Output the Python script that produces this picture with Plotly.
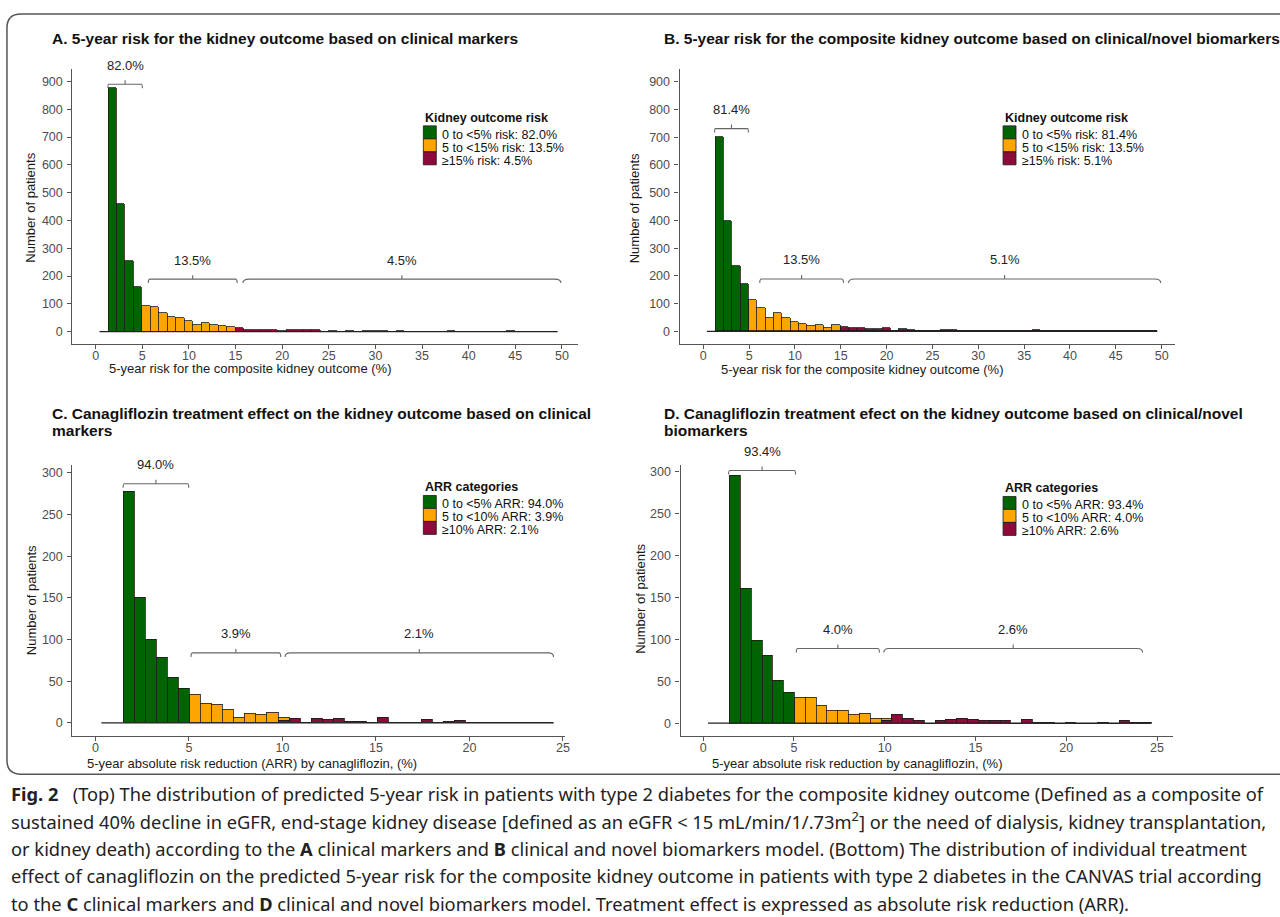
import plotly.graph_objects as go

W, H = 1280, 917

# ---------------- data ----------------
# Panel A: clinical markers, 5-year risk (%)
A_bin_start = 0.40
A_bin_width = 0.91
A_n_bins = 54
A_green_first = 1
A_green = [876, 458, 254, 161]
A_orange_first = 5
A_orange = [91, 88, 68, 53, 49, 39, 24, 30, 24, 22, 17]
A_red_first = 16
A_red = [12, 8, 8, 6, 6, 1, 7, 5, 6, 8,
         0, 1, 0, 1, 0, 1, 1, 1, 0, 4,
         0, 0, 0, 0, 0, 4, 0, 0, 0, 0,
         0, 0, 1, 0, 0, 0, 0, 0]

# Panel B: clinical/novel biomarkers, 5-year risk (%)
B_bin_start = 0.40
B_bin_width = 0.91
B_n_bins = 54
B_green_first = 1
B_green = [701, 398, 236, 172]
B_orange_first = 5
B_orange = [114, 83, 49, 68, 47, 34, 28, 19, 24, 13, 25]
B_red_first = 16
B_red = [15, 11, 11, 9, 9, 12, 1, 10, 5, 1,
         1, 1, 6, 6, 0, 0, 0, 0, 0, 1,
         1, 0, 1, 4, 1, 0, 1, 0, 1, 0,
         0, 0, 1, 0, 0, 0, 0, 0]

# Panel C: ARR, clinical markers
C_bin_start = 0.32
C_bin_width = 0.59
C_n_bins = 41
C_green_first = 2
C_green = [278, 151, 100, 79, 54, 41]
C_orange_first = 8
C_orange = [34, 23, 22, 16, 7, 11, 10, 12, 3]
C_red_first = 16
C_red = [3, 5, 0, 5, 4, 5, 2, 2, 0, 7,
         0, 1, 0, 4, 0, 2, 3, 1, 1, 0,
         1, 1, 1, 0, 1]

# Panel D: ARR, clinical/novel biomarkers
D_bin_start = 0.27
D_bin_width = 0.596
D_n_bins = 41
D_green_first = 2
D_green = [295, 160, 98, 81, 51, 37]
D_orange_first = 8
D_orange = [31, 31, 21, 15, 15, 10, 12, 6, 3]
D_red_first = 16
D_red = [3, 10, 6, 3, 0, 3, 5, 6, 5, 3,
         3, 3, 0, 5, 1, 1, 0, 1, 0, 0,
         1, 0, 3, 1, 1]

# Titles / labels
A_title = ["A. 5-year risk for the kidney outcome based on clinical markers"]
B_title = ["B. 5-year risk for the composite kidney outcome based on clinical/novel biomarkers"]
C_title = ["C. Canagliflozin treatment effect on the kidney outcome based on clinical", "markers"]
D_title = ["D. Canagliflozin treatment efect on the kidney outcome based on clinical/novel", "biomarkers"]

AB_xlabel = "5-year risk for the composite kidney outcome (%)"
C_xlabel = "5-year absolute risk reduction (ARR) by canagliflozin, (%)"
D_xlabel = "5-year absolute risk reduction by canagliflozin, (%)"
ylabel = "Number of patients"

AB_xticks = [0, 5, 10, 15, 20, 25, 30, 35, 40, 45, 50]
AB_yticks = [0, 100, 200, 300, 400, 500, 600, 700, 800, 900]
CD_xticks = [0, 5, 10, 15, 20, 25]
CD_yticks = [0, 50, 100, 150, 200, 250, 300]

A_legend_title = "Kidney outcome risk"
A_legend = ["0 to <5% risk: 82.0%", "5 to <15% risk: 13.5%", "≥15% risk: 4.5%"]
B_legend_title = "Kidney outcome risk"
B_legend = ["0 to <5% risk: 81.4%", "5 to <15% risk: 13.5%", "≥15% risk: 5.1%"]
C_legend_title = "ARR categories"
C_legend = ["0 to <5% ARR: 94.0%", "5 to <10% ARR: 3.9%", "≥10% ARR: 2.1%"]
D_legend_title = "ARR categories"
D_legend = ["0 to <5% ARR: 93.4%", "5 to <10% ARR: 4.0%", "≥10% ARR: 2.6%"]

# Brackets: (from, to, level, label)
A_brackets = [(1.31, 5.00, 890, "82.0%"), (5.63, 15.17, 189, "13.5%"), (15.78, 49.9, 189, "4.5%")]
B_brackets = [(1.23, 4.92, 731, "81.4%"), (6.16, 15.29, 189, "13.5%"), (15.84, 49.9, 189, "5.1%")]
C_brackets = [(1.48, 4.99, 287, "94.0%"), (5.11, 9.91, 84, "3.9%"), (10.14, 24.5, 84, "2.1%")]
D_brackets = [(1.40, 5.09, 301, "93.4%"), (5.13, 9.71, 89, "4.0%"), (9.95, 24.2, 89, "2.6%")]

caption_lines = [
    "<b>Fig. 2</b>\u00a0\u00a0 (Top) The distribution of predicted 5-year risk in patients with type 2 diabetes for the composite kidney outcome (Defined as a composite of",
    "sustained 40% decline in eGFR, end-stage kidney disease [defined as an eGFR &lt; 15 mL/min/1/.73m<sup>2</sup>] or the need of dialysis, kidney transplantation,",
    "or kidney death) according to the <b>A</b> clinical markers and <b>B</b> clinical and novel biomarkers model. (Bottom) The distribution of individual treatment",
    "effect of canagliflozin on the predicted 5-year risk for the composite kidney outcome in patients with type 2 diabetes in the CANVAS trial according",
    "to the <b>C</b> clinical markers and <b>D</b> clinical and novel biomarkers model. Treatment effect is expressed as absolute risk reduction (ARR).",
]

# ---------------- style ----------------
GREEN = "#006400"
ORANGE = "#FFA500"
RED = "#8E0A3A"
AXIS = "#555555"
FONT = "Liberation Sans, Arial"
TICKFONT = dict(family=FONT, size=12.5, color="#4D4D4D")


def px(x):
    return x / W


def py(y):
    return 1 - y / H


panels = {
    "A": dict(start=A_bin_start, width=A_bin_width, n=A_n_bins,
              cats=[(A_red_first, A_red, RED), (A_orange_first, A_orange, ORANGE), (A_green_first, A_green, GREEN)],
              dx=(72.7, 580), dy=(68, 343), xr=(-2.5, 51.7), yr=(-43, 945),
              xt=AB_xticks, yt=AB_yticks, title=A_title, tx=50, ty=38,
              xlab=AB_xlabel, xlx=251, xly=368, ylx=31, yly=207,
              lt=A_legend_title, ll=A_legend, lx=425, lty=117, br=A_brackets),
    "B": dict(start=B_bin_start, width=B_bin_width, n=B_n_bins,
              cats=[(B_red_first, B_red, RED), (B_orange_first, B_orange, ORANGE), (B_green_first, B_green, GREEN)],
              dx=(682.3, 1180), dy=(68, 343), xr=(-2.58, 51.5), yr=(-44, 946),
              xt=AB_xticks, yt=AB_yticks, title=B_title, tx=665, ty=38,
              xlab=AB_xlabel, xlx=866, xly=369, ylx=637, yly=208,
              lt=B_legend_title, ll=B_legend, lx=1007, lty=117, br=B_brackets),
    "C": dict(start=C_bin_start, width=C_bin_width, n=C_n_bins,
              cats=[(C_red_first, C_red, RED), (C_orange_first, C_orange, ORANGE), (C_green_first, C_green, GREEN)],
              dx=(72.7, 567), dy=(465, 736), xr=(-1.23, 25.1), yr=(-16, 309),
              xt=CD_xticks, yt=CD_yticks, title=C_title, tx=50, ty=413,
              xlab=C_xlabel, xlx=253, xly=763, ylx=31, yly=600,
              lt=C_legend_title, ll=C_legend, lx=425, lty=487, br=C_brackets),
    "D": dict(start=D_bin_start, width=D_bin_width, n=D_n_bins,
              cats=[(D_red_first, D_red, RED), (D_orange_first, D_orange, ORANGE), (D_green_first, D_green, GREEN)],
              dx=(683.3, 1178), dy=(465, 736), xr=(-1.24, 25.9), yr=(-15.5, 307),
              xt=CD_xticks, yt=CD_yticks, title=D_title, tx=665, ty=413,
              xlab=D_xlabel, xlx=860, xly=763, ylx=643, yly=598,
              lt=D_legend_title, ll=D_legend, lx=1007, lty=488, br=D_brackets),
}

fig = go.Figure()
shapes = []
annotations = []
layout_axes = {}


def esc(s):
    return s.replace("<", "&lt;")


for i, (key, p) in enumerate(panels.items(), start=1):
    xa = "x" if i == 1 else f"x{i}"
    ya = "y" if i == 1 else f"y{i}"
    xname = "xaxis" if i == 1 else f"xaxis{i}"
    yname = "yaxis" if i == 1 else f"yaxis{i}"

    # baseline spanning all bins (empty bins are drawn as a flat line)
    edge0 = p["start"]
    edgeN = p["start"] + p["n"] * p["width"]
    fig.add_trace(go.Scatter(x=[edge0, edgeN], y=[0, 0], mode="lines",
                             line=dict(color="#222222", width=1.3),
                             xaxis=xa, yaxis=ya, showlegend=False, hoverinfo="skip"))

    for first, counts, color in p["cats"]:
        centers = [p["start"] + (first + k + 0.5) * p["width"] for k in range(len(counts))]
        fig.add_trace(go.Bar(x=centers, y=counts, width=p["width"],
                             marker=dict(color=color, line=dict(color="#1A1A1A", width=0.8)),
                             xaxis=xa, yaxis=ya, showlegend=False))

    layout_axes[xname] = dict(domain=[px(p["dx"][0]), px(p["dx"][1])], range=list(p["xr"]),
                              anchor=ya, tickvals=p["xt"], ticks="outside", ticklen=4,
                              tickcolor=AXIS, showline=True, linecolor=AXIS, linewidth=1.3,
                              showgrid=False, zeroline=False, tickfont=TICKFONT,
                              ticklabelstandoff=-4)
    layout_axes[yname] = dict(domain=[py(p["dy"][1]), py(p["dy"][0])], range=list(p["yr"]),
                              anchor=xa, tickvals=p["yt"], ticks="outside", ticklen=4,
                              tickcolor=AXIS, showline=True, linecolor=AXIS, linewidth=1.3,
                              showgrid=False, zeroline=False, tickfont=TICKFONT,
                              ticklabelstandoff=2)

    # data units per pixel for bracket ticks
    ypp = (p["yr"][1] - p["yr"][0]) / (p["dy"][1] - p["dy"][0])
    tick = 4 * ypp
    for x0, x1, lvl, lab in p["br"]:
        xm = (x0 + x1) / 2
        path = (f"M {x0},{lvl - tick} Q {x0},{lvl} {x0 + (x1 - x0) * 0.02},{lvl} "
                f"L {x1 - (x1 - x0) * 0.02},{lvl} Q {x1},{lvl} {x1},{lvl - tick} "
                f"M {xm},{lvl} L {xm},{lvl + tick}")
        shapes.append(dict(type="path", xref=xa, yref=ya, path=path,
                           line=dict(color="#666666", width=1.1)))
        annotations.append(dict(x=xm, y=lvl, xref=xa, yref=ya, text=lab, showarrow=False,
                                yanchor="middle", yshift=19,
                                font=dict(family=FONT, size=13, color="#222222")))

    # title
    for j, line in enumerate(p["title"]):
        annotations.append(dict(x=px(p["tx"]), y=py(p["ty"] + 17 * j), xref="paper", yref="paper",
                                text=f"<b>{line}</b>", showarrow=False, xanchor="left",
                                yanchor="middle", font=dict(family=FONT, size=15.5, color="#111111")))
    # axis titles
    annotations.append(dict(x=px(p["xlx"]), y=py(p["xly"]), xref="paper", yref="paper",
                            text=p["xlab"], showarrow=False, xanchor="center", yanchor="middle",
                            font=dict(family=FONT, size=13, color="#1A1A1A")))
    annotations.append(dict(x=px(p["ylx"]), y=py(p["yly"]), xref="paper", yref="paper",
                            text=ylabel, showarrow=False, textangle=-90, xanchor="center",
                            yanchor="middle", font=dict(family=FONT, size=13, color="#1A1A1A")))

    # legend (drawn manually for compact ggplot-like spacing)
    lx, lty = p["lx"], p["lty"]
    annotations.append(dict(x=px(lx), y=py(lty), xref="paper", yref="paper",
                            text=f"<b>{p['lt']}</b>", showarrow=False, xanchor="left",
                            yanchor="middle", font=dict(family=FONT, size=12.5, color="#111111")))
    for j, (lab, col) in enumerate(zip(p["ll"], [GREEN, ORANGE, RED])):
        top = lty + 8 + 13 * j
        shapes.append(dict(type="rect", xref="paper", yref="paper",
                           x0=px(lx), x1=px(lx + 13), y0=py(top + 13), y1=py(top),
                           fillcolor=col, line=dict(color="#1A1A1A", width=0.8)))
        annotations.append(dict(x=px(lx + 17), y=py(top + 9), xref="paper", yref="paper",
                                text=esc(lab), showarrow=False, xanchor="left", yanchor="middle",
                                font=dict(family=FONT, size=12.5, color="#111111")))

# outer rounded frame
x0f, y0f, x1f, y1f, r = 7, 13, 1300, 774, 14
frame = (f"M {px(x0f)},{py(y1f - r)} L {px(x0f)},{py(y0f + r)} "
         f"Q {px(x0f)},{py(y0f)} {px(x0f + r)},{py(y0f)} L {px(x1f)},{py(y0f)} "
         f"M {px(x0f)},{py(y1f - r)} Q {px(x0f)},{py(y1f)} {px(x0f + r)},{py(y1f)} L {px(x1f)},{py(y1f)}")
shapes.append(dict(type="path", xref="paper", yref="paper", path=frame,
                   line=dict(color="#555555", width=1.5)))

# caption
for j, line in enumerate(caption_lines):
    annotations.append(dict(x=px(9), y=py(793 + 27.5 * j), xref="paper", yref="paper",
                            text=line, showarrow=False, xanchor="left", yanchor="middle",
                            font=dict(family="Noto Sans", size=18.3, color="#222222")))

fig.update_layout(width=W, height=H, margin=dict(l=0, r=0, t=0, b=0),
                  paper_bgcolor="white", plot_bgcolor="white", barmode="stack", bargap=0,
                  shapes=shapes, annotations=annotations, showlegend=False, **layout_axes)

fig.write_html("out.html", config={"displayModeBar": False},
               post_script="document.body.style.margin='0';document.body.style.overflow='hidden';")
